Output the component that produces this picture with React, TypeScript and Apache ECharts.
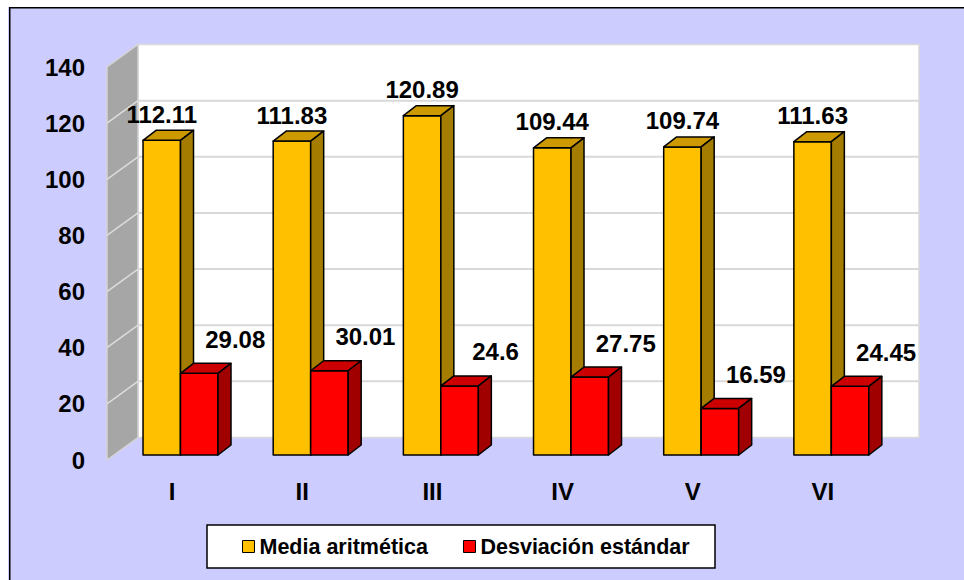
import React, { useEffect, useRef } from "react";
import * as echarts from "echarts";

const categories = ["I", "II", "III", "IV", "V", "VI"];
const mediaValues = [112.11, 111.83, 120.89, 109.44, 109.74, 111.63];
const desviacionValues = [29.08, 30.01, 24.6, 27.75, 16.59, 24.45];
const seriesNames = ["Media aritmética", "Desviación estándar"];
const yMin = 0;
const yMax = 140;
const yInterval = 20;
const yTickValues = [0, 20, 40, 60, 80, 100, 120, 140];

const FONT = '"Liberation Sans", Arial, Helvetica, sans-serif';
const LABEL_SIZE = 24;
const LEGEND_SIZE = 21.5;
// 3D geometry (pixels)
const DEPTH_DX = 31;
const DEPTH_DY = -22.5;
const FRONT_DX = 7;
const FRONT_DY = -5;
const BAR_DX = 13;
const BAR_DY = -10;

function wallRenderer(params: any, api: any) {
  const cs = params.coordSys;
  const x0 = cs.x;
  const x1 = cs.x + cs.width;
  const yBase = api.coord([0, yMin])[1];
  const yTop = api.coord([0, yMax])[1];
  const children: any[] = [];
  children.push({
    type: "rect",
    shape: { x: x0 + DEPTH_DX, y: yTop + DEPTH_DY, width: x1 - x0, height: yBase - yTop },
    style: { fill: "#FFFFFF", stroke: "#D9D9D9", lineWidth: 1.5 },
  });
  children.push({
    type: "polygon",
    shape: {
      points: [
        [x0, yBase],
        [x0 + DEPTH_DX, yBase + DEPTH_DY],
        [x0 + DEPTH_DX, yTop + DEPTH_DY],
        [x0, yTop],
      ],
    },
    style: { fill: "#A6A6A6", stroke: "#D4D4D4", lineWidth: 1.5 },
  });
  yTickValues.forEach((t) => {
    if (t === yMin || t === yMax) return;
    const y = api.coord([0, t])[1];
    children.push({
      type: "line",
      shape: { x1: x0 + DEPTH_DX, y1: y + DEPTH_DY, x2: x1 + DEPTH_DX, y2: y + DEPTH_DY },
      style: { stroke: "#D9D9D9", lineWidth: 2 },
    });
    children.push({
      type: "line",
      shape: { x1: x0, y1: y, x2: x0 + DEPTH_DX, y2: y + DEPTH_DY },
      style: { stroke: "#DCDCDC", lineWidth: 1.5 },
    });
  });
  return { type: "group", children };
}

function makeBarRenderer(
  idx: number,
  frontColor: string,
  topColor: string,
  sideColor: string,
  labelDx: number,
  labelDy: number
) {
  return (params: any, api: any) => {
    const i = api.value(0);
    const v = api.value(1);
    const base = api.coord([i, 0]);
    const top = api.coord([i, v]);
    const band = api.size([1, 0])[0];
    const w = band * 0.288;
    const L = base[0] + FRONT_DX - band * 0.277 + idx * w;
    const R = L + w;
    const yB = base[1] + FRONT_DY;
    const yT = top[1] + FRONT_DY;
    const stroke = { stroke: "#000000", lineWidth: 1.5, lineJoin: "round" };
    return {
      type: "group",
      children: [
        {
          type: "polygon",
          shape: { points: [[L, yT], [R, yT], [R, yB], [L, yB]] },
          style: { fill: frontColor, ...stroke },
        },
        {
          type: "polygon",
          shape: {
            points: [
              [L, yT],
              [R, yT],
              [R + BAR_DX, yT + BAR_DY],
              [L + BAR_DX, yT + BAR_DY],
            ],
          },
          style: { fill: topColor, ...stroke },
        },
        {
          type: "polygon",
          shape: {
            points: [
              [R, yT],
              [R + BAR_DX, yT + BAR_DY],
              [R + BAR_DX, yB + BAR_DY],
              [R, yB],
            ],
          },
          style: { fill: sideColor, ...stroke },
        },
        {
          type: "text",
          z2: 10,
          style: {
            text: String(v),
            x: (L + R) / 2 + labelDx,
            y: yT + labelDy,
            align: "center",
            verticalAlign: "middle",
            fontSize: LABEL_SIZE,
            fontWeight: "bold",
            fontFamily: FONT,
            fill: "#000000",
          },
        },
      ],
    };
  };
}

export default function App() {
  const ref = useRef<HTMLDivElement>(null);
  useEffect(() => {
    if (!ref.current) return;
    const chart = echarts.init(ref.current, null, { renderer: "svg" });
    chart.setOption({
      animation: false,
      backgroundColor: "#CCCCFF",
      grid: { left: 99, right: 76, top: 60, bottom: 120, containLabel: false },
      xAxis: {
        type: "category",
        data: categories,
        boundaryGap: true,
        axisLine: { show: false },
        axisTick: { show: false },
        splitLine: { show: false },
        axisLabel: {
          margin: 19,
          fontSize: LABEL_SIZE,
          fontWeight: "bold",
          fontFamily: FONT,
          color: "#000000",
        },
      },
      yAxis: {
        type: "value",
        min: yMin,
        max: yMax,
        interval: yInterval,
        axisLine: { show: false },
        axisTick: { show: false },
        splitLine: { show: false },
        axisLabel: {
          margin: 22,
          fontSize: LABEL_SIZE,
          fontWeight: "bold",
          fontFamily: FONT,
          color: "#000000",
        },
      },
      legend: {
        data: seriesNames,
        left: 234,
        top: 528.5,
        padding: 0,
        itemWidth: 12,
        itemHeight: 12,
        itemGap: 35,
        icon: "rect",
        z: 10,
        itemStyle: { borderColor: "#000000", borderWidth: 1 },
        textStyle: { fontSize: LEGEND_SIZE, fontWeight: "bold", fontFamily: FONT, color: "#000000" },
      },
      graphic: [
        {
          type: "rect",
          silent: true,
          z: 0,
          shape: { x: 1.75, y: 0.75, width: 2000, height: 2000 },
          style: { fill: "none", stroke: "#000000", lineWidth: 1.5 },
        },
        {
          type: "rect",
          silent: true,
          z: 0,
          shape: { x: 199, y: 518, width: 508, height: 43 },
          style: { fill: "#FFFFFF", stroke: "#000000", lineWidth: 1.5 },
        },
      ],
      series: [
        {
          type: "custom",
          name: "walls",
          z: 1,
          silent: true,
          renderItem: wallRenderer,
          data: [[0, 0]],
          encode: { x: 0, y: 1 },
        },
        {
          type: "custom",
          name: seriesNames[0],
          z: 2,
          itemStyle: { color: "#FFC000" },
          renderItem: makeBarRenderer(0, "#FFC000", "#CC9A00", "#A37C00", 0, -26),
          data: mediaValues.map((v, i) => [i, v]),
          encode: { x: 0, y: 1 },
        },
        {
          type: "custom",
          name: seriesNames[1],
          z: 3,
          itemStyle: { color: "#FF0000" },
          renderItem: makeBarRenderer(1, "#FF0000", "#CC0000", "#A00000", 36, -34),
          data: desviacionValues.map((v, i) => [i, v]),
          encode: { x: 0, y: 1 },
        },
      ],
    });
    return () => chart.dispose();
  }, []);
  return (
    <div
      ref={ref}
      style={{ position: "absolute", left: 8, top: 7, width: 956, height: 573 }}
    />
  );
}
